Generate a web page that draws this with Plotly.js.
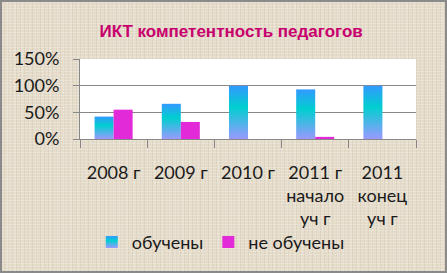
<!DOCTYPE html>
<html>
<head>
<meta charset="utf-8">
<script src="https://cdn.plot.ly/plotly-3.0.1.min.js"></script>
<style>
  html, body { margin: 0; padding: 0; }
  #wrap {
    position: relative; width: 447px; height: 273px; overflow: hidden;
    background-color: #e4dbc9;
    background-image:
      repeating-linear-gradient(0deg, rgba(255,255,255,0.22) 0 1px, transparent 1px 3px),
      repeating-linear-gradient(90deg, rgba(110,90,60,0.08) 0 1px, transparent 1px 4px),
      repeating-linear-gradient(90deg, rgba(255,255,255,0.12) 0 2px, transparent 2px 7px);
  }
  #chart { position: absolute; left: 0; top: 0; width: 447px; height: 273px; }
  #frame {
    position: absolute; left: 0; top: 0; width: 447px; height: 273px;
    box-sizing: border-box; border: 2px solid #8a8a8a; pointer-events: none;
  }
</style>
</head>
<body>
<div id="wrap">
  <div id="chart"></div>
  <div id="frame"></div>
</div>
<script>
// Доля педагогов, владеющих ИКТ, по годам (%)
const categories = ['2008 г', '2009 г', '2010 г', '2011 г<br>начало<br>уч г', '2011<br>конец<br>уч г'];
const trained = [42, 66, 100, 93, 100];
const notTrained = [55, 32, 0, 4, 0];
const yTicks = [0, 50, 100, 150];
const yTickLabels = ['0%', '50%', '100%', '150%'];
const seriesNames = ['обучены', 'не обучены'];

const axisGray = '#878787';
const textFont = { family: 'Lato, "Open Sans", sans-serif', size: 18, color: '#1a1a1a' };

const data = [
  { type: 'bar', name: seriesNames[0], x: categories, y: trained,
    marker: { color: '#1fc6d6', line: { width: 0 } }, hoverinfo: 'x+y' },
  { type: 'bar', name: seriesNames[1], x: categories, y: notTrained,
    marker: { color: '#e32ad8', line: { width: 0 } }, hoverinfo: 'x+y' }
];

const layout = {
  width: 447, height: 273,
  margin: { l: 80, r: 31, t: 59, b: 132, pad: 0 },
  paper_bgcolor: 'rgba(0,0,0,0)',
  plot_bgcolor: '#ffffff',
  barmode: 'group', bargap: 0.434, bargroupgap: 0,
  title: {
    text: 'ИКТ компетентность педагогов',
    font: { family: '"Liberation Sans", Arial, sans-serif', size: 17, color: '#c8006e', weight: 'bold' },
    x: 0.517, xref: 'container', xanchor: 'center',
    y: 0.887, yref: 'container', yanchor: 'middle'
  },
  xaxis: {
    type: 'category', tickson: 'boundaries',
    ticks: 'outside', ticklen: 8, tickcolor: axisGray, tickwidth: 1,
    showline: true, linecolor: axisGray, linewidth: 1,
    showgrid: false, zeroline: false,
    tickfont: textFont, ticklabelstandoff: 17, automargin: false
  },
  yaxis: {
    range: [0, 150], tickvals: yTicks, ticktext: yTickLabels,
    ticks: 'outside', ticklen: 6, tickcolor: axisGray, tickwidth: 1,
    showline: true, linecolor: axisGray, linewidth: 1,
    showgrid: true, gridcolor: axisGray, gridwidth: 1, zeroline: false,
    tickfont: textFont, ticklabelstandoff: 10, automargin: false
  },
  showlegend: true,
  legend: {
    orientation: 'h', x: 0.035, xanchor: 'left', y: -1.29, yanchor: 'middle',
    bgcolor: 'rgba(0,0,0,0)', font: textFont, traceorder: 'normal'
  }
};

Plotly.newPlot('chart', data, layout, { displayModeBar: false, staticPlot: true }).then(function (gd) {
  // vertical gradient fill for the "обучены" bars and its legend swatch
  const NS = 'http://www.w3.org/2000/svg';
  const svg = gd.querySelector('svg.main-svg');
  const defs = document.createElementNS(NS, 'defs');
  const grad = document.createElementNS(NS, 'linearGradient');
  grad.setAttribute('id', 'fillTrained');
  grad.setAttribute('x1', '0'); grad.setAttribute('y1', '0');
  grad.setAttribute('x2', '0'); grad.setAttribute('y2', '1');
  [['0', '#3399ff'], ['0.4', '#00cfcf'], ['1', '#9a99ff']].forEach(function (s) {
    const stop = document.createElementNS(NS, 'stop');
    stop.setAttribute('offset', s[0]);
    stop.setAttribute('stop-color', s[1]);
    grad.appendChild(stop);
  });
  defs.appendChild(grad);
  svg.insertBefore(defs, svg.firstChild);

  const barTraces = gd.querySelectorAll('.barlayer .trace');
  if (barTraces[0]) {
    barTraces[0].querySelectorAll('path').forEach(function (p) { p.style.fill = 'url(#fillTrained)'; });
  }
  const legendItems = gd.querySelectorAll('.legend .traces');
  if (legendItems[0]) {
    legendItems[0].querySelectorAll('.legendpoints path').forEach(function (p) { p.style.fill = 'url(#fillTrained)'; });
  }
});
</script>
</body>
</html>
